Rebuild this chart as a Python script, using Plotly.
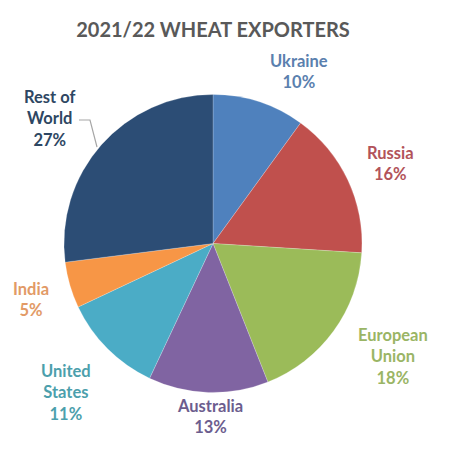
import plotly.graph_objects as go

countries = ["Ukraine", "Russia", "European Union", "Australia", "United States", "India", "Rest of World"]
shares = [10, 16, 18, 13, 11, 5, 27]
label_lines = ["Ukraine", "Russia", "European<br>Union", "Australia", "United<br>States", "India", "Rest of<br>World"]
slice_colors = ["#4F81BD", "#C0504D", "#9BBB59", "#8064A2", "#4BACC6", "#F79646", "#2C4D75"]
text_colors = ["#5A80AE", "#B2535A", "#9AB565", "#6C5D8E", "#4C9FAC", "#E29A66", "#2E4763"]
# label centres in page pixels (x, y from top)
label_pos = [(299, 72), (390, 163), (393, 356), (210, 416), (66, 392), (31, 299), (50, 118)]

OFF = 8  # default page body margin
W, H = 469 - OFF, 454 - OFF
cx, cy, r = 213 - OFF, 243.5 - OFF, 149


def px(x):
    return (x - OFF) / W


def py(y):
    return 1 - (y - OFF) / H


fig = go.Figure(go.Pie(
    labels=countries, values=shares, sort=False, direction="clockwise", rotation=0,
    marker=dict(colors=slice_colors, line=dict(color="rgba(255,255,255,0.35)", width=0.6)),
    textinfo="none", hoverinfo="label+percent", showlegend=False,
    domain=dict(x=[(cx - r) / W, (cx + r) / W], y=[(H - cy - r) / H, (H - cy + r) / H]),
))

for name, val, col, (lx, ly) in zip(label_lines, shares, text_colors, label_pos):
    fig.add_annotation(
        x=px(lx), y=py(ly), xref="paper", yref="paper", xanchor="center", yanchor="middle",
        text=f"<b>{name}<br>{val}%</b>", showarrow=False, align="center",
        font=dict(family="Lato", size=16.5, color=col),
    )

# leader line for Rest of World
fig.add_shape(type="path", xref="paper", yref="paper",
              path=f"M {px(79)} {py(120)} L {px(90)} {py(120)} L {px(97)} {py(147)}",
              line=dict(color="#A6A6A6", width=1.2))

fig.update_layout(
    width=W, height=H, margin=dict(l=0, r=0, t=0, b=0),
    paper_bgcolor="white", plot_bgcolor="white",
    title=dict(text="<b>2021/22 WHEAT EXPORTERS</b>", x=px(213), y=py(30), xanchor="center", yanchor="middle",
               font=dict(family="Lato", size=20, color="#595959")),
)

fig.write_html("out.html")
